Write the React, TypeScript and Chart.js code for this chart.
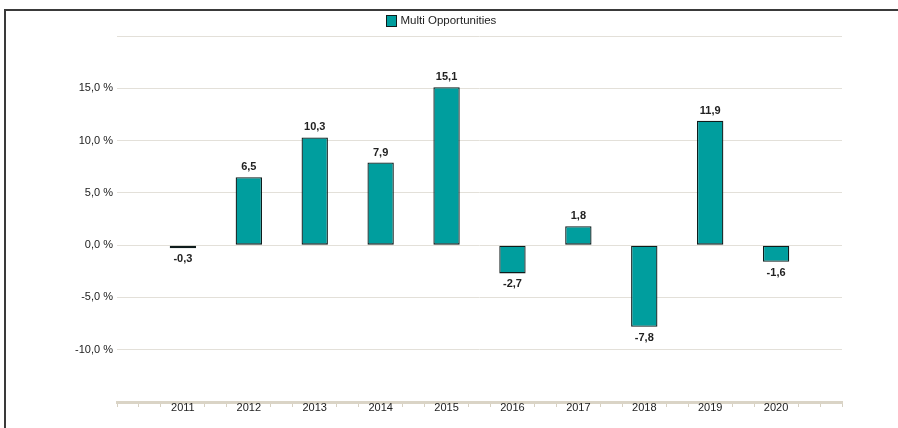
import React, { useEffect, useRef } from "react";
import { Chart, registerables } from "chart.js";

Chart.register(...registerables);

const years = [2011, 2012, 2013, 2014, 2015, 2016, 2017, 2018, 2019, 2020];
const returns = [-0.3, 6.5, 10.3, 7.9, 15.1, -2.7, 1.8, -7.8, 11.9, -1.6];
const seriesName = "Multi Opportunities";
const yTicksShown = [-10, -5, 0, 5, 10, 15];

const FONT = "'Liberation Sans', Arial, sans-serif";
const BAR_FILL = "#009e9e";
const BAR_EDGE = "#0f1c1c";

const fmt = (v: number) => v.toFixed(1).replace(".", ",");

const valueLabels = {
  id: "valueLabels",
  afterDatasetsDraw(chart: any) {
    const ctx = chart.ctx;
    const meta = chart.getDatasetMeta(0);
    ctx.save();
    ctx.font = `bold 11px ${FONT}`;
    ctx.fillStyle = "#222";
    ctx.textAlign = "center";
    ctx.textBaseline = "middle";
    meta.data.forEach((el: any, i: number) => {
      const v = returns[i];
      const y = v >= 0 ? el.y - 10 : el.y + 11;
      ctx.fillText(fmt(v), el.x, y);
    });
    ctx.restore();
  },
};

const customLegend = {
  id: "customLegend",
  afterDraw(chart: any) {
    const ctx = chart.ctx;
    ctx.save();
    ctx.font = `11.5px ${FONT}`;
    const tw = ctx.measureText(seriesName).width;
    const total = 10 + 4 + tw;
    const cx = 441;
    const x0 = Math.round(cx - total / 2) + 0.5;
    ctx.fillStyle = BAR_FILL;
    ctx.strokeStyle = BAR_EDGE;
    ctx.lineWidth = 1;
    ctx.fillRect(x0, 15.5, 10, 11);
    ctx.strokeRect(x0, 15.5, 10, 11);
    ctx.fillStyle = "#222";
    ctx.textBaseline = "middle";
    ctx.textAlign = "left";
    ctx.fillText(seriesName, x0 + 14, 21);
    ctx.restore();
  },
};

export default function App() {
  const ref = useRef<HTMLCanvasElement | null>(null);

  useEffect(() => {
    if (!ref.current) return;
    const chart = new Chart(ref.current, {
      type: "bar",
      data: {
        datasets: [
          {
            label: seriesName,
            data: years.map((y, i) => ({ x: y, y: returns[i] })),
            backgroundColor: BAR_FILL,
            borderColor: BAR_EDGE,
            borderWidth: 1.3,
            borderSkipped: false,
            barPercentage: 1.2,
            categoryPercentage: 1,
          },
        ],
      },
      options: {
        responsive: false,
        animation: false,
        layout: { padding: { left: 0, right: 56, top: 36, bottom: 0 } },
        plugins: {
          legend: { display: false },
          tooltip: { enabled: false },
        },
        scales: {
          x: {
            type: "linear",
            min: 2010,
            max: 2021,
            offset: false,
            afterBuildTicks(scale: any) {
              const t = [];
              for (let i = 0; i <= 33; i++) t.push({ value: 2010 + i / 3 });
              scale.ticks = t;
            },
            afterFit(scale: any) {
              scale.height = 26;
            },
            grid: {
              offset: false,
              drawOnChartArea: false,
              drawTicks: true,
              tickLength: 5,
              tickColor: (c: any) => {
                const v = c.tick ? c.tick.value : 0;
                const r = Math.round(v);
                if (Math.abs(v - r) < 1e-6 && years.includes(r)) return "rgba(0,0,0,0)";
                return "#d6d0c2";
              },
            },
            border: { display: true, color: "#dad4c6", width: 3 },
            ticks: {
              autoSkip: false,
              maxRotation: 0,
              padding: -6,
              color: "#222",
              font: { family: FONT, size: 11 },
              callback: (value: any) => {
                const v = Number(value);
                const r = Math.round(v);
                if (Math.abs(v - r) < 1e-6 && years.includes(r)) return String(r);
                return "";
              },
            },
          },
          y: {
            min: -15,
            max: 20,
            afterBuildTicks(scale: any) {
              const t = [];
              for (let v = -15; v <= 20; v += 5) t.push({ value: v });
              scale.ticks = t;
            },
            afterFit(scale: any) {
              scale.width = 117;
            },
            grid: {
              color: "#e3e0d9",
              lineWidth: 1,
              drawTicks: false,
            },
            border: { display: false },
            ticks: {
              padding: 4,
              color: "#222",
              font: { family: FONT, size: 11 },
              callback: (value: any) => {
                const v = Number(value);
                return yTicksShown.includes(v) ? `${fmt(v)} %` : "";
              },
            },
          },
        },
      },
      plugins: [valueLabels, customLegend],
    } as any);
    return () => chart.destroy();
  }, []);

  return (
    <div
      style={{
        position: "fixed",
        left: 0,
        top: 0,
        width: 898,
        height: 428,
        background: "#fff",
        overflow: "hidden",
      }}
    >
      <canvas
        ref={ref}
        width={898}
        height={428}
        style={{ position: "absolute", left: 0, top: 0, width: 898, height: 428 }}
      />
      <div
        style={{
          position: "absolute",
          left: 4,
          top: 9,
          width: 898,
          height: 428,
          borderTop: "2px solid #3a3a3a",
          borderLeft: "2px solid #3a3a3a",
          pointerEvents: "none",
        }}
      />
    </div>
  );
}
